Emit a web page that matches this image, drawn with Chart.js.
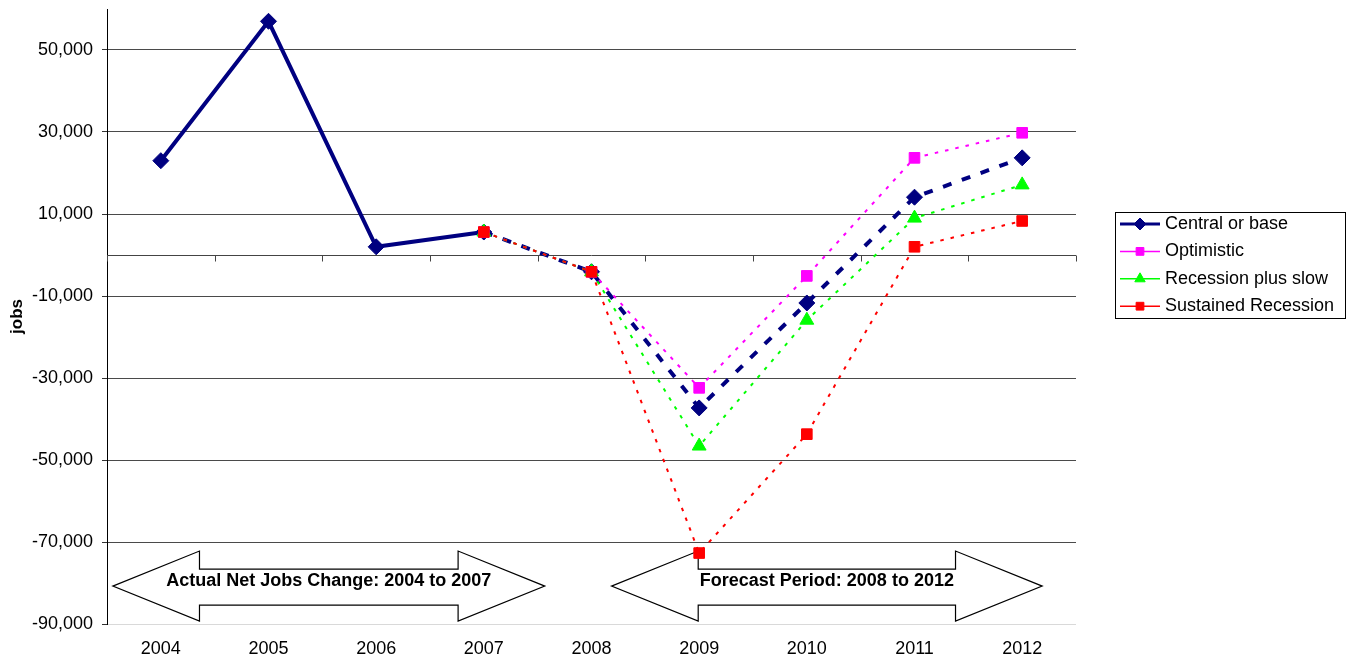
<!DOCTYPE html>
<html>
<head>
<meta charset="utf-8">
<script src="https://cdn.jsdelivr.net/npm/chart.js@4"></script>
<style>
  body { margin: 0; background: #fff; }
</style>
</head>
<body>
<canvas id="jobs" width="1352" height="665"></canvas>
<script>
// chart data
const YEARS = ['2004', '2005', '2006', '2007', '2008', '2009', '2010', '2011', '2012']
const CENTRAL = [23000, 57000, 2000, 5600, -4100, -37300, -11700, 14100, 23700]
const OPTIMISTIC = [null, null, null, 5600, -4100, -32400, -5100, 23700, 29800]
const RECESSION_SLOW = [null, null, null, 5600, -4100, -46600, -15900, 9000, 17100]
const SUSTAINED = [null, null, null, 5600, -4100, -72700, -43700, 2000, 8300]
const Y_TICKS = [-90000, -70000, -50000, -30000, -10000, 10000, 30000, 50000]
const ARROW_TEXT = ['Actual Net Jobs Change: 2004 to 2007', 'Forecast Period: 2008 to 2012']

const FONT = 'Liberation Sans, Arial, sans-serif'
const NAVY = '#000080'
const PINK = '#ff00ff'
const GREEN = '#00ff00'
const RED = '#ff0000'

Chart.defaults.font.family = FONT
Chart.defaults.font.size = 18
Chart.defaults.color = '#000'

// double headed arrows, x in category index units, y in data units
const arrows = [
    { from: -0.446, to: 3.566, text: ARROW_TEXT[0] },
    { from: 4.186, to: 8.186, text: ARROW_TEXT[1] }
]

const arrowPlugin = {
    id: 'arrows',
    beforeDatasetsDraw(chart) {
        const ctx = chart.ctx
        const xs = chart.scales.x
        const ys = chart.scales.y
        const step = xs.getPixelForValue(1) - xs.getPixelForValue(0)
        const head = step * 0.805
        const yTop = ys.getPixelForValue(-72200)
        const yBot = ys.getPixelForValue(-89300)
        const bTop = ys.getPixelForValue(-76600)
        const bBot = ys.getPixelForValue(-85400)
        const yMid = (yTop + yBot) / 2

        ctx.save()
        arrows.forEach((a) => {
            const x1 = xs.getPixelForValue(a.from)
            const x2 = xs.getPixelForValue(a.to)
            ctx.beginPath()
            ctx.moveTo(x1, yMid)
            ctx.lineTo(x1 + head, yTop)
            ctx.lineTo(x1 + head, bTop)
            ctx.lineTo(x2 - head, bTop)
            ctx.lineTo(x2 - head, yTop)
            ctx.lineTo(x2, yMid)
            ctx.lineTo(x2 - head, yBot)
            ctx.lineTo(x2 - head, bBot)
            ctx.lineTo(x1 + head, bBot)
            ctx.lineTo(x1 + head, yBot)
            ctx.closePath()
            ctx.fillStyle = '#fff'
            ctx.fill()
            ctx.strokeStyle = '#000'
            ctx.lineWidth = 1.2
            ctx.stroke()

            ctx.fillStyle = '#000'
            ctx.font = 'bold 18px ' + FONT
            ctx.textAlign = 'center'
            ctx.textBaseline = 'middle'
            ctx.fillText(a.text, (x1 + x2) / 2, yMid - 5)
        })
        ctx.restore()
    }
}

// the x axis crosses at zero, with tick marks between the years
const zeroAxisPlugin = {
    id: 'zeroAxis',
    beforeDatasetsDraw(chart) {
        const ctx = chart.ctx
        const area = chart.chartArea
        const y0 = Math.round(chart.scales.y.getPixelForValue(0)) + 0.5
        const step = (area.right - area.left) / YEARS.length
        ctx.save()
        ctx.strokeStyle = '#444'
        ctx.lineWidth = 1
        ctx.beginPath()
        ctx.moveTo(area.left, y0)
        ctx.lineTo(area.right, y0)
        for (let k = 0; k <= YEARS.length; k++) {
            const x = Math.round(area.left + k * step) + 0.5
            ctx.moveTo(x, y0)
            ctx.lineTo(x, y0 + 6)
        }
        ctx.stroke()
        ctx.restore()
    }
}

const legendItems = [
    { text: 'Central or base', color: NAVY, width: 3, style: 'rectRot', radius: 6 },
    { text: 'Optimistic', color: PINK, width: 1.5, style: 'rect', radius: 5.5 },
    { text: 'Recession plus slow', color: GREEN, width: 1.5, style: 'triangle', radius: 6 },
    { text: 'Sustained Recession', color: RED, width: 1.5, style: 'rect', radius: 5.5 }
]

const legendPlugin = {
    id: 'boxLegend',
    afterDraw(chart) {
        const ctx = chart.ctx
        const left = chart.chartArea.right + 39
        const top = 212
        ctx.save()
        ctx.strokeStyle = '#000'
        ctx.lineWidth = 1
        ctx.strokeRect(left + 0.5, top + 0.5, 230, 106)
        legendItems.forEach((item, i) => {
            const y = top + 12 + i * 27.4
            ctx.strokeStyle = item.color
            ctx.fillStyle = item.color
            ctx.lineWidth = item.width
            ctx.beginPath()
            ctx.moveTo(left + 5, y)
            ctx.lineTo(left + 45, y)
            ctx.stroke()
            ctx.lineWidth = 1
            Chart.helpers.drawPoint(ctx, { pointStyle: item.style, rotation: 0, radius: item.radius, borderWidth: 1 }, left + 25, y)
            ctx.fillStyle = '#000'
            ctx.font = '18px ' + FONT
            ctx.textAlign = 'left'
            ctx.textBaseline = 'middle'
            ctx.fillText(item.text, left + 50, y)
        })
        ctx.restore()
    }
}

const dotted = [3.5, 7]

const chartJobs = new Chart(document.getElementById('jobs'), {
    type: 'line',
    data: {
        labels: YEARS,
        datasets: [{
            label: 'Central or base',
            data: CENTRAL,
            order: 4,
            borderColor: NAVY,
            backgroundColor: NAVY,
            borderWidth: 4,
            pointStyle: 'rectRot',
            pointRadius: 8,
            pointBorderWidth: 1,
            segment: {
                borderDash: (ctx) => ctx.p0DataIndex >= 3 ? [9, 11] : undefined
            }
        }, {
            label: 'Optimistic',
            data: OPTIMISTIC,
            order: 3,
            borderColor: PINK,
            backgroundColor: PINK,
            borderWidth: 2,
            borderDash: dotted,
            pointStyle: 'rect',
            pointRadius: 7.5,
            pointBorderWidth: 1
        }, {
            label: 'Recession plus slow',
            data: RECESSION_SLOW,
            order: 2,
            borderColor: GREEN,
            backgroundColor: GREEN,
            borderWidth: 2,
            borderDash: dotted,
            pointStyle: 'triangle',
            pointRadius: 8,
            pointBorderWidth: 1
        }, {
            label: 'Sustained Recession',
            data: SUSTAINED,
            order: 1,
            borderColor: RED,
            backgroundColor: RED,
            borderWidth: 2,
            borderDash: dotted,
            pointStyle: 'rect',
            pointRadius: 7.5,
            pointBorderWidth: 1
        }]
    },
    options: {
        responsive: false,
        animation: false,
        devicePixelRatio: 1,
        layout: {
            padding: { top: 8, right: 276, left: 0, bottom: 0 }
        },
        plugins: {
            legend: { display: false },
            tooltip: { enabled: false }
        },
        scales: {
            x: {
                offset: true,
                grid: { display: false, drawTicks: false },
                border: { display: false },
                ticks: { padding: 14, maxRotation: 0 },
                afterFit: (scale) => { scale.height = 41 }
            },
            y: {
                min: -90000,
                max: 60000,
                afterBuildTicks: (scale) => {
                    scale.ticks = Y_TICKS.map((v) => ({ value: v }))
                },
                afterFit: (scale) => {
                    scale.width = 107
                    scale.paddingTop = 0
                    scale.paddingBottom = 0
                },
                grid: {
                    color: (ctx) => ctx.tick && ctx.tick.value === -90000 ? '#d9d9d9' : '#4a4a4a',
                    tickColor: '#333',
                    tickLength: 5
                },
                border: { color: '#000', width: 1 },
                ticks: {
                    padding: 9,
                    callback: (v) => v.toLocaleString('en-US')
                },
                title: {
                    display: true,
                    text: 'jobs',
                    font: { weight: 'bold', size: 17 },
                    padding: { top: 7, bottom: 0 }
                }
            }
        }
    },
    plugins: [zeroAxisPlugin, arrowPlugin, legendPlugin]
})
</script>
</body>
</html>
